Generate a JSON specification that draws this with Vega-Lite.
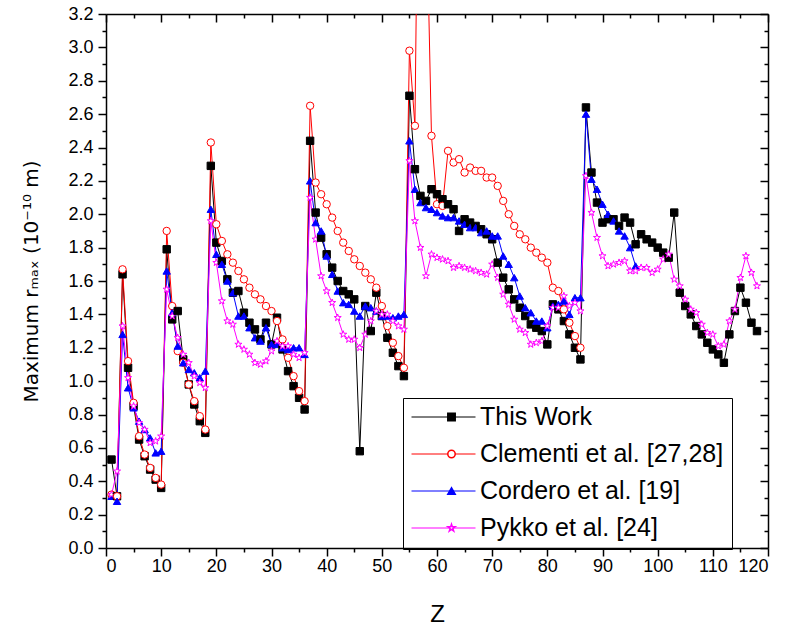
{
"$schema": "https://vega.github.io/schema/vega-lite/v6.json",
"width": 662, "height": 534,
"autosize": {"type": "none"},
"padding": {"left": 106, "top": 14, "right": 21, "bottom": 83},
"background": "white",
"config": {
  "view": {"stroke": null},
  "axis": {"domainColor": "black", "tickColor": "black", "labelColor": "black", "titleColor": "black", "labelFont": "Liberation Sans", "titleFont": "Liberation Sans", "labelFontSize": 18, "grid": false, "domainWidth": 1.5, "tickWidth": 1.5, "titleFontWeight": "normal"},
  "legend": {"labelFont": "Liberation Sans", "labelFontSize": 25, "labelColor": "black"}
},
"data": {"values": [
{"Z":1,"TW":0.53,"CL":0.32,"CO":0.31,"PY":0.32},
{"Z":2,"TW":0.31,"CL":0.31,"CO":0.28,"PY":0.46},
{"Z":3,"TW":1.64,"CL":1.67,"CO":1.28,"PY":1.33},
{"Z":4,"TW":1.08,"CL":1.12,"CO":0.96,"PY":1.02},
{"Z":5,"TW":0.85,"CL":0.87,"CO":0.84,"PY":0.85},
{"Z":6,"TW":0.65,"CL":0.67,"CO":0.76,"PY":0.75},
{"Z":7,"TW":0.55,"CL":0.56,"CO":0.71,"PY":0.71},
{"Z":8,"TW":0.47,"CL":0.48,"CO":0.66,"PY":0.63},
{"Z":9,"TW":0.41,"CL":0.42,"CO":0.57,"PY":0.64},
{"Z":10,"TW":0.36,"CL":0.38,"CO":0.58,"PY":0.67},
{"Z":11,"TW":1.79,"CL":1.90,"CO":1.66,"PY":1.55},
{"Z":12,"TW":1.37,"CL":1.45,"CO":1.41,"PY":1.39},
{"Z":13,"TW":1.42,"CL":1.18,"CO":1.21,"PY":1.26},
{"Z":14,"TW":1.13,"CL":1.11,"CO":1.11,"PY":1.16},
{"Z":15,"TW":0.98,"CL":0.98,"CO":1.07,"PY":1.11},
{"Z":16,"TW":0.86,"CL":0.88,"CO":1.05,"PY":1.03},
{"Z":17,"TW":0.76,"CL":0.79,"CO":1.02,"PY":0.99},
{"Z":18,"TW":0.69,"CL":0.71,"CO":1.06,"PY":0.96},
{"Z":19,"TW":2.29,"CL":2.43,"CO":2.03,"PY":1.96},
{"Z":20,"TW":1.83,"CL":1.94,"CO":1.76,"PY":1.71},
{"Z":21,"TW":1.72,"CL":1.84,"CO":1.70,"PY":1.48},
{"Z":22,"TW":1.61,"CL":1.76,"CO":1.60,"PY":1.36},
{"Z":23,"TW":1.53,"CL":1.71,"CO":1.53,"PY":1.34},
{"Z":24,"TW":1.54,"CL":1.66,"CO":1.39,"PY":1.22},
{"Z":25,"TW":1.41,"CL":1.61,"CO":1.39,"PY":1.19},
{"Z":26,"TW":1.35,"CL":1.56,"CO":1.32,"PY":1.16},
{"Z":27,"TW":1.31,"CL":1.52,"CO":1.26,"PY":1.11},
{"Z":28,"TW":1.25,"CL":1.49,"CO":1.24,"PY":1.10},
{"Z":29,"TW":1.35,"CL":1.45,"CO":1.32,"PY":1.12},
{"Z":30,"TW":1.22,"CL":1.42,"CO":1.22,"PY":1.18},
{"Z":31,"TW":1.38,"CL":1.36,"CO":1.22,"PY":1.24},
{"Z":32,"TW":1.19,"CL":1.25,"CO":1.20,"PY":1.21},
{"Z":33,"TW":1.06,"CL":1.14,"CO":1.19,"PY":1.21},
{"Z":34,"TW":0.97,"CL":1.03,"CO":1.20,"PY":1.16},
{"Z":35,"TW":0.90,"CL":0.94,"CO":1.20,"PY":1.14},
{"Z":36,"TW":0.83,"CL":0.88,"CO":1.16,"PY":1.17},
{"Z":37,"TW":2.44,"CL":2.65,"CO":2.20,"PY":2.10},
{"Z":38,"TW":2.01,"CL":2.19,"CO":1.95,"PY":1.85},
{"Z":39,"TW":1.86,"CL":2.12,"CO":1.90,"PY":1.63},
{"Z":40,"TW":1.76,"CL":2.06,"CO":1.75,"PY":1.54},
{"Z":41,"TW":1.68,"CL":1.98,"CO":1.64,"PY":1.47},
{"Z":42,"TW":1.60,"CL":1.90,"CO":1.54,"PY":1.38},
{"Z":43,"TW":1.54,"CL":1.83,"CO":1.47,"PY":1.28},
{"Z":44,"TW":1.52,"CL":1.78,"CO":1.46,"PY":1.25},
{"Z":45,"TW":1.49,"CL":1.73,"CO":1.42,"PY":1.25},
{"Z":46,"TW":0.58,"CL":1.69,"CO":1.39,"PY":1.20},
{"Z":47,"TW":1.45,"CL":1.65,"CO":1.45,"PY":1.28},
{"Z":48,"TW":1.30,"CL":1.61,"CO":1.44,"PY":1.36},
{"Z":49,"TW":1.53,"CL":1.56,"CO":1.42,"PY":1.42},
{"Z":50,"TW":1.39,"CL":1.45,"CO":1.39,"PY":1.40},
{"Z":51,"TW":1.26,"CL":1.33,"CO":1.39,"PY":1.40},
{"Z":52,"TW":1.17,"CL":1.23,"CO":1.38,"PY":1.36},
{"Z":53,"TW":1.09,"CL":1.15,"CO":1.39,"PY":1.33},
{"Z":54,"TW":1.03,"CL":1.08,"CO":1.40,"PY":1.31},
{"Z":55,"TW":2.71,"CL":2.98,"CO":2.44,"PY":2.32},
{"Z":56,"TW":2.27,"CL":2.53,"CO":2.15,"PY":1.96},
{"Z":57,"TW":2.11,"CL":5.5,"CO":2.07,"PY":1.80},
{"Z":58,"TW":2.08,"CL":4.0,"CO":2.04,"PY":1.63},
{"Z":59,"TW":2.15,"CL":2.47,"CO":2.03,"PY":1.76},
{"Z":60,"TW":2.12,"CL":2.06,"CO":2.01,"PY":1.74},
{"Z":61,"TW":2.09,"CL":2.05,"CO":1.99,"PY":1.73},
{"Z":62,"TW":2.06,"CL":2.38,"CO":1.98,"PY":1.72},
{"Z":63,"TW":2.03,"CL":2.31,"CO":1.98,"PY":1.68},
{"Z":64,"TW":1.90,"CL":2.33,"CO":1.96,"PY":1.69},
{"Z":65,"TW":1.97,"CL":2.25,"CO":1.94,"PY":1.68},
{"Z":66,"TW":1.95,"CL":2.28,"CO":1.92,"PY":1.67},
{"Z":67,"TW":1.93,"CL":2.26,"CO":1.92,"PY":1.66},
{"Z":68,"TW":1.91,"CL":2.26,"CO":1.89,"PY":1.65},
{"Z":69,"TW":1.88,"CL":2.22,"CO":1.90,"PY":1.64},
{"Z":70,"TW":1.85,"CL":2.22,"CO":1.87,"PY":1.70},
{"Z":71,"TW":1.71,"CL":2.17,"CO":1.87,"PY":1.62},
{"Z":72,"TW":1.62,"CL":2.08,"CO":1.75,"PY":1.52},
{"Z":73,"TW":1.55,"CL":2.00,"CO":1.70,"PY":1.46},
{"Z":74,"TW":1.49,"CL":1.93,"CO":1.62,"PY":1.37},
{"Z":75,"TW":1.44,"CL":1.88,"CO":1.51,"PY":1.31},
{"Z":76,"TW":1.39,"CL":1.85,"CO":1.44,"PY":1.29},
{"Z":77,"TW":1.34,"CL":1.80,"CO":1.41,"PY":1.22},
{"Z":78,"TW":1.32,"CL":1.77,"CO":1.36,"PY":1.23},
{"Z":79,"TW":1.30,"CL":1.74,"CO":1.36,"PY":1.24},
{"Z":80,"TW":1.22,"CL":1.71,"CO":1.32,"PY":1.33},
{"Z":81,"TW":1.46,"CL":1.56,"CO":1.45,"PY":1.44},
{"Z":82,"TW":1.43,"CL":1.54,"CO":1.46,"PY":1.44},
{"Z":83,"TW":1.36,"CL":1.43,"CO":1.48,"PY":1.51},
{"Z":84,"TW":1.28,"CL":1.35,"CO":1.40,"PY":1.45},
{"Z":85,"TW":1.20,"CL":1.27,"CO":1.50,"PY":1.47},
{"Z":86,"TW":1.13,"CL":1.20,"CO":1.50,"PY":1.42},
{"Z":87,"TW":2.64,"CO":2.60,"PY":2.23},
{"Z":88,"TW":2.25,"CO":2.21,"PY":2.01},
{"Z":89,"TW":2.07,"CO":2.15,"PY":1.86},
{"Z":90,"TW":1.95,"CO":2.06,"PY":1.75},
{"Z":91,"TW":1.97,"CO":2.00,"PY":1.69},
{"Z":92,"TW":1.97,"CO":1.96,"PY":1.70},
{"Z":93,"TW":1.93,"CO":1.90,"PY":1.71},
{"Z":94,"TW":1.98,"CO":1.87,"PY":1.72},
{"Z":95,"TW":1.95,"CO":1.80,"PY":1.66},
{"Z":96,"TW":1.82,"CO":1.69,"PY":1.66},
{"Z":97,"TW":1.88,"PY":1.68},
{"Z":98,"TW":1.85,"PY":1.68},
{"Z":99,"TW":1.83,"PY":1.65},
{"Z":100,"TW":1.80,"PY":1.67},
{"Z":101,"TW":1.77,"PY":1.73},
{"Z":102,"TW":1.74,"PY":1.76},
{"Z":103,"TW":2.01,"PY":1.61},
{"Z":104,"TW":1.53,"PY":1.57},
{"Z":105,"TW":1.45,"PY":1.49},
{"Z":106,"TW":1.40,"PY":1.43},
{"Z":107,"TW":1.33,"PY":1.41},
{"Z":108,"TW":1.28,"PY":1.34},
{"Z":109,"TW":1.23,"PY":1.29},
{"Z":110,"TW":1.19,"PY":1.28},
{"Z":111,"TW":1.16,"PY":1.21},
{"Z":112,"TW":1.11,"PY":1.22},
{"Z":113,"TW":1.28,"PY":1.36},
{"Z":114,"TW":1.42,"PY":1.43},
{"Z":115,"TW":1.56,"PY":1.62},
{"Z":116,"TW":1.47,"PY":1.75},
{"Z":117,"TW":1.35,"PY":1.65},
{"Z":118,"TW":1.30,"PY":1.57}
]},
"transform": [
  {"fold": ["TW", "CL", "CO", "PY"], "as": ["s", "v"]},
  {"filter": "isValid(datum.v)"}
],
"layer": [
  {
    "mark": {"type": "line", "strokeWidth": 1, "clip": true},
    "encoding": {
      "x": {"field": "Z", "type": "quantitative", "scale": {"domain": [0, 120], "nice": false},
            "axis": {"orient": "bottom", "values": [0,10,20,30,40,50,60,70,80,90,100,110,120], "tickSize": 8, "labelPadding": 1, "title": "Z", "titleFontSize": 24, "titlePadding": 27}},
      "y": {"field": "v", "type": "quantitative", "scale": {"domain": [0, 3.2], "nice": false, "zero": false},
            "axis": {"orient": "left", "values": [0,0.2,0.4,0.6,0.8,1.0,1.2,1.4,1.6,1.8,2.0,2.2,2.4,2.6,2.8,3.0,3.2], "format": ".1f", "tickSize": 8, "labelPadding": 5, "title": "Maximum rₘₐₓ (10⁻¹⁰ m)", "titleFont": "DejaVu Sans", "titleFontSize": 20, "titlePadding": 26}},
      "color": {"field": "s", "type": "nominal", "scale": {"domain": ["TW", "CL", "CO", "PY"], "range": ["#000000", "#ff0000", "#0000ff", "#ff00ff"]},
                "legend": {"orient": "none", "legendX": 297, "legendY": 384, "title": null, "symbolType": "stroke", "symbolSize": 4096, "symbolStrokeWidth": 1, "clipHeight": 22, "rowPadding": 12, "labelOffset": 4, "padding": 8, "strokeColor": "black", "labelLimit": 400,
                           "labelExpr": "datum.label == 'TW' ? 'This Work' : datum.label == 'CL' ? 'Clementi et al. [27,28]' : datum.label == 'CO' ? 'Cordero et al. [19]' : 'Pykko et al. [24]'"}}
    }
  },
  {
    "mark": {"type": "point", "opacity": 1, "strokeWidth": 1, "size": 55, "clip": true},
    "encoding": {
      "x": {"field": "Z", "type": "quantitative", "scale": {"domain": [0, 120], "nice": false},
            "axis": {"orient": "bottom", "values": [5,15,25,35,45,55,65,75,85,95,105,115], "tickSize": 4, "labels": false, "domain": false, "title": null}},
      "y": {"field": "v", "type": "quantitative", "scale": {"domain": [0, 3.2], "nice": false, "zero": false},
            "axis": {"orient": "left", "values": [0.1,0.3,0.5,0.7,0.9,1.1,1.3,1.5,1.7,1.9,2.1,2.3,2.5,2.7,2.9,3.1], "tickSize": 4, "labels": false, "domain": false, "title": null}},
      "shape": {"field": "s", "type": "nominal", "sort": null, "scale": {"range": ["square", "circle", "triangle-up", "M0,-1L0.2245,-0.309L0.9511,-0.309L0.3633,0.118L0.5878,0.809L0,0.382L-0.5878,0.809L-0.3633,0.118L-0.9511,-0.309L-0.2245,-0.309Z"]},
                "legend": {"orient": "none", "legendX": 325, "legendY": 384, "title": null, "symbolSize": 55, "clipHeight": 22, "rowPadding": 12, "padding": 8, "labelExpr": "''"}},
      "fill": {"field": "s", "type": "nominal", "sort": null, "scale": {"range": ["#000000", "#ffffff", "#0000ff", "#ffffff"]}},
      "stroke": {"field": "s", "type": "nominal", "sort": null, "scale": {"range": ["#000000", "#ff0000", "#0000ff", "#ff00ff"]}}
    }
  },
  {
    "mark": {"type": "point", "opacity": 0},
    "encoding": {
      "x": {"field": "Z", "type": "quantitative", "scale": {"domain": [0, 120], "nice": false},
            "axis": {"orient": "top", "values": [0,10,20,30,40,50,60,70,80,90,100,110,120], "tickSize": -8, "labels": false, "title": null}},
      "y": {"field": "v", "type": "quantitative", "scale": {"domain": [0, 3.2], "nice": false, "zero": false},
            "axis": {"orient": "right", "values": [0,0.2,0.4,0.6,0.8,1.0,1.2,1.4,1.6,1.8,2.0,2.2,2.4,2.6,2.8,3.0,3.2], "tickSize": -8, "labels": false, "title": null}}
    }
  },
  {
    "mark": {"type": "point", "opacity": 0},
    "encoding": {
      "x": {"field": "Z", "type": "quantitative", "scale": {"domain": [0, 120], "nice": false},
            "axis": {"orient": "top", "values": [5,15,25,35,45,55,65,75,85,95,105,115], "tickSize": -4, "labels": false, "domain": false, "title": null}},
      "y": {"field": "v", "type": "quantitative", "scale": {"domain": [0, 3.2], "nice": false, "zero": false},
            "axis": {"orient": "right", "values": [0.1,0.3,0.5,0.7,0.9,1.1,1.3,1.5,1.7,1.9,2.1,2.3,2.5,2.7,2.9,3.1], "tickSize": -4, "labels": false, "domain": false, "title": null}}
    }
  }
],
"resolve": {"axis": {"x": "independent", "y": "independent"}}
}
